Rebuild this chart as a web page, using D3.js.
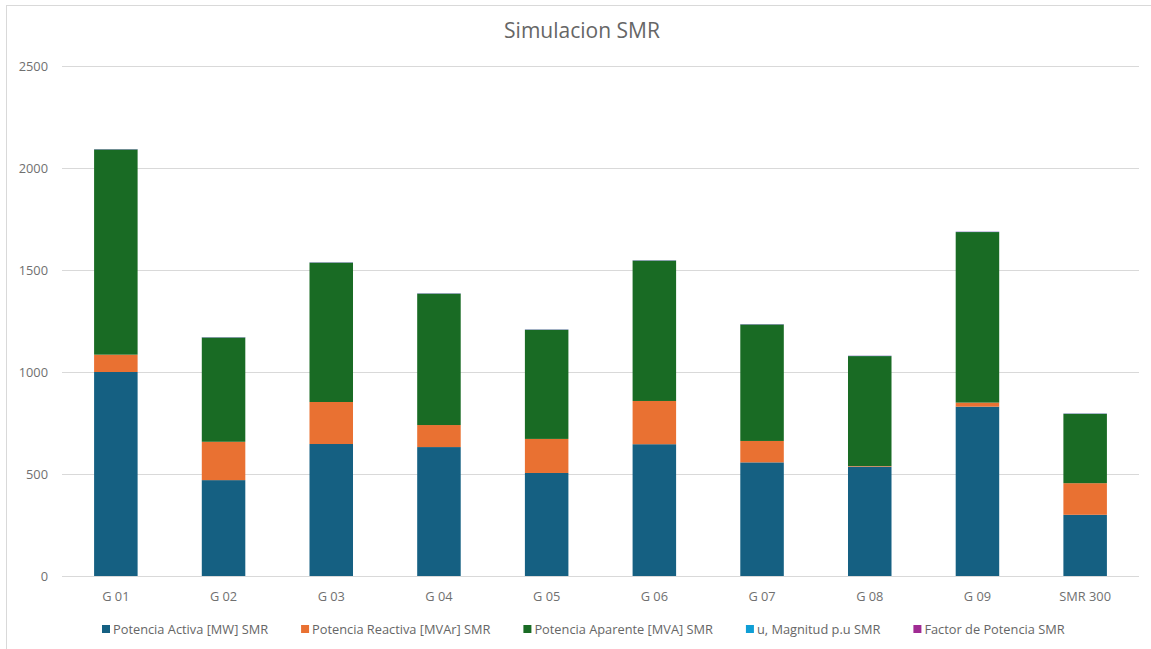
<!DOCTYPE html>
<html><head><meta charset="utf-8">
<script src="https://cdn.jsdelivr.net/npm/d3@7"></script>
<style>body{margin:0;background:#fff;}svg{display:block;}</style>
</head><body>
<svg id="chart" width="1151" height="649"></svg>
<script>
const categories = ["G 01","G 02","G 03","G 04","G 05","G 06","G 07","G 08","G 09","SMR 300"];
const activa   = [1000, 470, 647, 632, 505, 646, 557, 536, 830, 300];
const reactiva = [85, 188, 206, 108, 167, 212, 105, 3, 20, 155];
const aparente = [1006, 511, 683, 644, 535, 688, 571, 539, 836, 340];
const magnitud = [1.0, 1.0, 1.0, 1.0, 1.0, 1.0, 1.0, 1.0, 1.0, 1.0];
const factor   = [0.99, 0.92, 0.95, 0.98, 0.94, 0.94, 0.98, 0.99, 0.99, 0.88];
const seriesNames = ["Potencia Activa [MW] SMR","Potencia Reactiva [MVAr] SMR","Potencia Aparente [MVA] SMR","u, Magnitud p.u SMR","Factor de Potencia SMR"];
const colors = ["#156082","#e97132","#196b24","#0f9ed5","#a02b93"];
const yTicks = [0,500,1000,1500,2000,2500];
const title = "Simulacion SMR";

(function(){
const font = "'Open Sans', Lato, sans-serif";
const svg = d3.select("#chart");
svg.append("rect").attr("x",6.5).attr("y",5.5).attr("width",1160).attr("height",660)
  .attr("fill","#fff").attr("stroke","#d9d9d9");

const pL = 62, pR = 1139, pT = 66, pB = 576;
const x = d3.scaleBand().domain(categories).range([pL,pR]).paddingInner(0.596).paddingOuter(0.298);
const y = d3.scaleLinear().domain([0,2500]).range([pB,pT]);

svg.append("g").selectAll("line").data(yTicks).join("line")
  .attr("x1",pL).attr("x2",pR).attr("y1",d=>Math.round(y(d))+0.5).attr("y2",d=>Math.round(y(d))+0.5)
  .attr("stroke","#d9d9d9").attr("stroke-width",1);

const yAxis = d3.axisLeft(y).tickValues(yTicks).tickFormat(d3.format("d")).tickSize(0).tickPadding(0);
const ya = svg.append("g").attr("transform",`translate(48,0)`).call(yAxis);
ya.select(".domain").remove();
ya.selectAll("text").attr("font-family",font).attr("font-size",12.8).attr("fill","#707070");

const rows = categories.map((c,i)=>({cat:c, s0:activa[i], s1:reactiva[i], s2:aparente[i], s3:magnitud[i], s4:factor[i]}));
const stack = d3.stack().keys(["s0","s1","s2","s3","s4"])(rows);
svg.append("g").selectAll("g").data(stack).join("g").attr("fill",(d,i)=>colors[i])
  .selectAll("rect").data(d=>d).join("rect")
  .attr("x",d=>x(d.data.cat)).attr("width",x.bandwidth())
  .attr("y",d=>y(d[1])).attr("height",d=>Math.max(0,y(d[0])-y(d[1])));

const xAxis = d3.axisBottom(x).tickSize(0).tickPadding(0);
const xa = svg.append("g").attr("transform",`translate(0,${pB})`).call(xAxis);
xa.select(".domain").remove();
xa.selectAll("text").attr("font-family",font).attr("font-size",12.8).attr("fill","#707070").attr("dy",null).attr("y",25);

svg.append("text").attr("x",582).attr("y",38).attr("text-anchor","middle")
  .attr("font-family",font).attr("font-size",21).attr("fill","#666666").text(title);

const lg = svg.append("g").attr("transform","translate(0,629)");
let cx = 102;
seriesNames.forEach((n,i)=>{
  const g = lg.append("g").attr("transform",`translate(${cx},0)`);
  g.append("rect").attr("x",0).attr("y",-4).attr("width",8).attr("height",8).attr("fill",colors[i]);
  const t = g.append("text").attr("x",11).attr("y",4.5).attr("font-family",font).attr("font-size",12.8)
    .attr("fill","#666666").text(n);
  cx += 11 + t.node().getComputedTextLength() + 33;
});
})();
</script>
</body></html>
